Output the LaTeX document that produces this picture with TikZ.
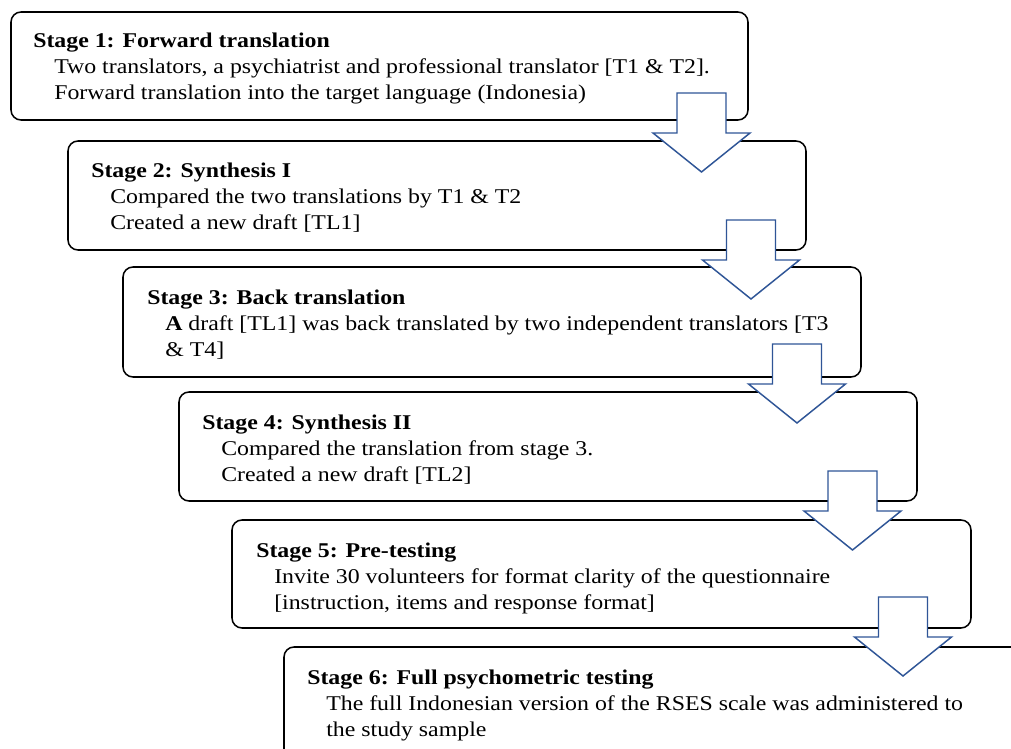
\documentclass[tikz,border=0pt]{standalone}
\usepackage{fontspec}
\setmainfont[FakeStretch=1.135]{Liberation Serif}
\usetikzlibrary{fit,calc}
\definecolor{arrowblue}{RGB}{47,85,151}
\tikzset{
  stagebox/.style={draw=black, line width=1.15pt, rounded corners=7.5pt, inner sep=0pt, fill=white},
  blockarr/.style={draw=arrowblue, line width=1.1pt, fill=white, line join=miter},
  ttl/.style={anchor=base west, inner sep=0pt, font=\fontsize{15.75}{19}\selectfont\bfseries},
  txt/.style={anchor=base west, inner sep=0pt, font=\fontsize{15.75}{19}\selectfont},
}
% block down arrow: name, centre x, top y (pixel units)
\newcommand\blockdownarrow[3]{%
  \coordinate (#1) at (#2,#3);
  \draw[blockarr] ($(#1)+(-24.5,0)$) -- ($(#1)+(24.5,0)$) -- ($(#1)+(24.5,40)$)
    -- ($(#1)+(48.5,40)$) -- ($(#1)+(0,79)$) -- ($(#1)+(-48.5,40)$)
    -- ($(#1)+(-24.5,40)$) -- cycle;}
\begin{document}
\begin{tikzpicture}[x=0.75pt,y=-0.75pt]
\useasboundingbox (0,0) rectangle (1011,749);
\clip (0,0) rectangle (1011,749);
% boxes
\node[stagebox, fit={(11,12) (748,120)}] (s1) {};
\node[stagebox, fit={(68,141) (806,250)}] (s2) {};
\node[stagebox, fit={(123,267) (861,377)}] (s3) {};
\node[stagebox, fit={(179,392) (917,501)}] (s4) {};
\node[stagebox, fit={(232,520) (971,628)}] (s5) {};
\node[stagebox, fit={(284,647) (1120,820)}] (s6) {};
% arrows
\blockdownarrow{a1}{701.5}{93}
\blockdownarrow{a2}{751}{220}
\blockdownarrow{a3}{797}{344}
\blockdownarrow{a4}{852.5}{471}
\blockdownarrow{a5}{903}{597}
% texts
\node[ttl] (t1) at (33,48) {Stage 1: Forward translation};
\node[txt] (t1a) at (54,74) {Two translators, a psychiatrist and professional translator [T1 \& T2].};
\node[txt] (t1b) at (54,100) {Forward translation into the target language (Indonesia)};

\node[ttl] (t2) at (91,177) {Stage 2: Synthesis I};
\node[txt] (t2a) at (110,203) {Compared the two translations by T1 \& T2};
\node[txt] (t2b) at (110,229) {Created a new draft [TL1]};

\node[ttl] (t3) at (147,304) {Stage 3: Back translation};
\node[txt] (t3a) at (165,330) {\textbf{A} draft [TL1] was back translated by two independent translators [T3};
\node[txt] (t3b) at (165,356) {\& T4]};

\node[ttl] (t4) at (202,429) {Stage 4: Synthesis II};
\node[txt] (t4a) at (221,455) {Compared the translation from stage 3.};
\node[txt] (t4b) at (221,481) {Created a new draft [TL2]};

\node[ttl] (t5) at (256,557) {Stage 5: Pre-testing};
\node[txt] (t5a) at (274,583) {Invite 30 volunteers for format clarity of the questionnaire};
\node[txt] (t5b) at (274,609) {[instruction, items and response format]};

\node[ttl] (t6) at (307,684) {Stage 6: Full psychometric testing};
\node[txt] (t6a) at (326,710) {The full Indonesian version of the RSES scale was administered to};
\node[txt] (t6b) at (326,736) {the study sample};
\end{tikzpicture}
\end{document}
